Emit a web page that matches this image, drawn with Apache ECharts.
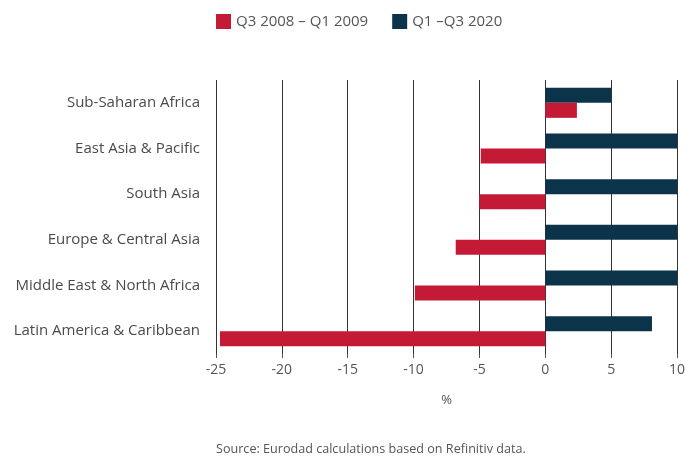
<!DOCTYPE html>
<html>
<head>
<meta charset="utf-8">
<script src="https://cdn.jsdelivr.net/npm/echarts@6/dist/echarts.min.js"></script>
<style>
  html, body { margin: 0; padding: 0; background: #fff; }
  #chart { width: 685px; height: 459px; }
</style>
</head>
<body>
<div id="chart"></div>
<script>
// regions, bottom to top
const regions = [
  'Latin America & Caribbean',
  'Middle East & North Africa',
  'Europe & Central Asia',
  'South Asia',
  'East Asia & Pacific',
  'Sub-Saharan Africa'
]
// % change, same order as regions
const crisis2008 = [-24.7, -9.9, -6.8, -5.0, -4.9, 2.4]
const covid2020 = [8.1, 10, 10, 10, 10, 5.0]
const xTicks = [-25, -20, -15, -10, -5, 0, 5, 10]

const red = '#C41A36'
const navy = '#0B344B'
const font = 'Open Sans'

let myChart = echarts.init(document.getElementById('chart'))
myChart.setOption({
  animation: false,
  textStyle: { fontFamily: font },
  legend: {
    top: 9,
    left: 211,
    itemWidth: 15,
    itemHeight: 15,
    itemGap: 24,
    icon: 'rect',
    textStyle: { fontSize: 15, color: '#555', fontFamily: font },
    data: ['Q3 2008 – Q1 2009', 'Q1 –Q3 2020']
  },
  grid: { left: 216, right: 8, top: 80, bottom: 105, outerBoundsMode: 'none' },
  xAxis: {
    type: 'value',
    min: xTicks[0],
    max: xTicks[xTicks.length - 1],
    interval: 5,
    name: '%',
    nameLocation: 'middle',
    nameGap: 40,
    nameTextStyle: { fontSize: 13, color: '#555', fontFamily: font },
    axisLine: { show: false },
    axisTick: { show: true, length: 4, lineStyle: { color: '#555' } },
    axisLabel: { fontSize: 14, color: '#555', margin: 9, fontFamily: font },
    splitLine: { show: true, lineStyle: { color: '#333', width: 1 } }
  },
  yAxis: {
    type: 'category',
    data: regions,
    axisLine: { show: false },
    axisTick: { show: false },
    axisLabel: { fontSize: 15, color: '#4a4a4a', margin: 16, fontFamily: font }
  },
  series: [
    // drawn first = upper bar in each band
    {
      name: 'Q1 –Q3 2020',
      type: 'bar',
      barWidth: 15,
      barGap: 0,
      itemStyle: { color: navy },
      data: covid2020
    },
    {
      name: 'Q3 2008 – Q1 2009',
      type: 'bar',
      barWidth: 15,
      barGap: 0,
      itemStyle: { color: red },
      data: crisis2008
    }
  ],
  graphic: [{
    type: 'text',
    left: 216,
    top: 443,
    style: {
      text: 'Source: Eurodad calculations based on Refinitiv data.',
      fontSize: 12.6,
      fill: '#555',
      fontFamily: font
    }
  }]
})
</script>
</body>
</html>
